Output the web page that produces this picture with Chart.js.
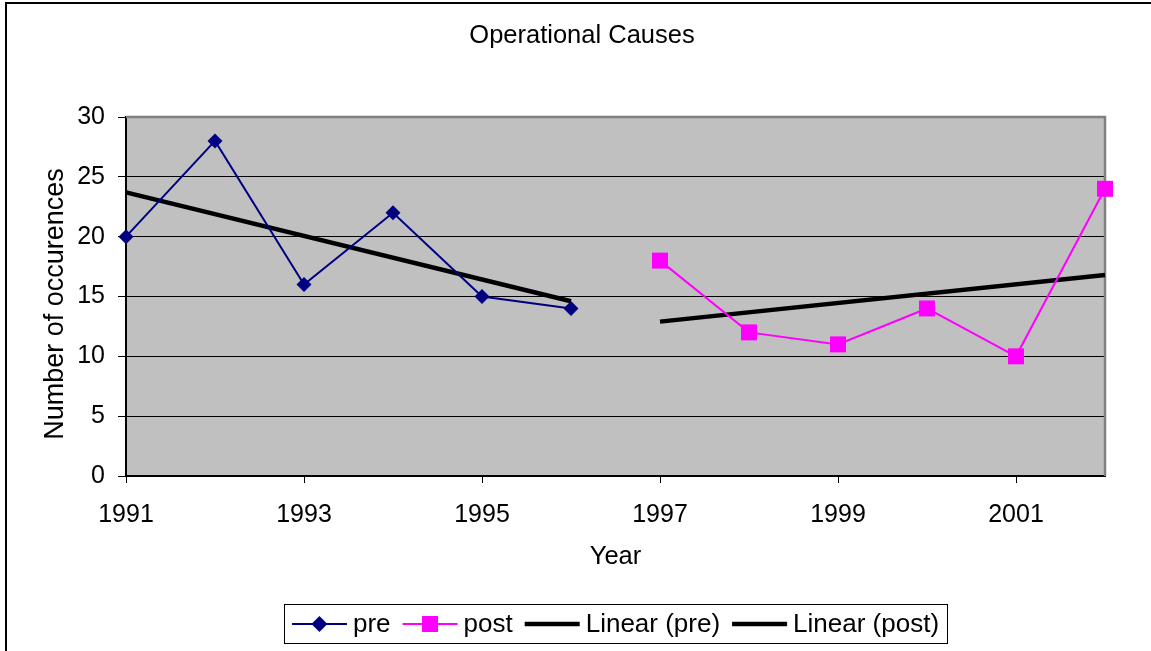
<!DOCTYPE html>
<html>
<head>
<meta charset="utf-8">
<script src="https://cdn.jsdelivr.net/npm/chart.js@4/dist/chart.umd.min.js"></script>
<style>
  html, body { margin: 0; padding: 0; background: #fff; }
  #wrap { width: 1151px; height: 651px; position: relative; }
</style>
</head>
<body>
<div id="wrap"><canvas id="chart" width="1151" height="651"></canvas></div>
<script>
"use strict";

// data
const years = ["1991", "1992", "1993", "1994", "1995", "1996", "1997", "1998", "1999", "2000", "2001", "2002"];
const preYears = ["1991", "1992", "1993", "1994", "1995", "1996"];
const preValues = [20, 28, 16, 22, 15, 14];
const postYears = ["1997", "1998", "1999", "2000", "2001", "2002"];
const postValues = [18, 12, 11, 14, 10, 24];
// trend line end points (Linear (pre) / Linear (post))
const preTrendYears = ["1991", "1996"];
const preTrendValues = [23.7, 14.6];
const postTrendYears = ["1997", "2002"];
const postTrendValues = [12.9, 16.8];
const yTicks = [0, 5, 10, 15, 20, 25, 30];

const chartTitle = "Operational Causes";
const yTitle = "Number of occurences";

const FONT = "'Liberation Sans', Arial, sans-serif";
const NAVY = "#000080";
const MAGENTA = "#FF00FF";

const toPoints = (xs, ys) => xs.map((x, i) => ({ x: x, y: ys[i] }));

// grey plot area + grey top/right border, outer frame, titles
const plotArea = {
  id: "plotArea",
  beforeDraw(chart) {
    const { ctx, chartArea: a } = chart;
    ctx.save();
    ctx.fillStyle = "#fff";
    ctx.fillRect(0, 0, chart.width, chart.height);
    ctx.fillStyle = "#C0C0C0";
    ctx.fillRect(a.left, a.top, a.right - a.left, a.bottom - a.top);
    ctx.restore();
  },
  beforeDatasetsDraw(chart) {
    const { ctx, chartArea: a } = chart;
    ctx.save();
    ctx.strokeStyle = "#808080";
    ctx.lineWidth = 2.5;
    ctx.beginPath();
    ctx.moveTo(a.left, a.top);
    ctx.lineTo(a.right, a.top);
    ctx.lineTo(a.right, a.bottom);
    ctx.stroke();
    ctx.restore();
  },
  afterDraw(chart) {
    const ctx = chart.ctx;
    ctx.save();
    ctx.strokeStyle = "#000";
    ctx.lineWidth = 2;
    ctx.strokeRect(6, 3, chart.width + 50, chart.height + 50);

    ctx.fillStyle = "#000";
    ctx.textAlign = "center";
    ctx.textBaseline = "alphabetic";
    ctx.font = "25.5px " + FONT;
    ctx.fillText(chartTitle, 582, 43);

    ctx.translate(63, 304);
    ctx.rotate(-Math.PI / 2);
    ctx.font = "27px " + FONT;
    ctx.fillText(yTitle, 0, 0);
    ctx.restore();
  }
};

// Excel style legend: line + marker, boxed, under the axis title
const boxLegend = {
  id: "boxLegend",
  afterDraw(chart) {
    const { ctx, chartArea: a } = chart;
    const sym = 55, gap = 6, sep = 12, padX = 8;
    const yMid = 624;
    ctx.save();
    ctx.font = "26px " + FONT;
    const items = chart.data.datasets.map(ds => ({
      ds: ds,
      w: sym + gap + ctx.measureText(ds.label).width
    }));
    const total = items.reduce((s, it) => s + it.w, 0) + sep * (items.length - 1) + padX * 2;
    let x = (a.left + a.right) / 2 - total / 2;
    ctx.strokeStyle = "#000";
    ctx.lineWidth = 1;
    ctx.strokeRect(Math.round(x) + 0.5, 604.5, Math.round(total), 39);
    x += padX;
    items.forEach(it => {
      const ds = it.ds;
      ctx.strokeStyle = ds.borderColor;
      ctx.lineWidth = ds.borderWidth;
      ctx.beginPath();
      ctx.moveTo(x, yMid);
      ctx.lineTo(x + sym, yMid);
      ctx.stroke();
      const cx = x + sym / 2;
      ctx.fillStyle = ds.pointBackgroundColor;
      if (ds.pointStyle === "rectRot") {
        ctx.beginPath();
        ctx.moveTo(cx - 8, yMid);
        ctx.lineTo(cx, yMid - 8);
        ctx.lineTo(cx + 8, yMid);
        ctx.lineTo(cx, yMid + 8);
        ctx.closePath();
        ctx.fill();
      } else if (ds.pointStyle === "rect") {
        ctx.fillRect(cx - 8, yMid - 8, 16, 16);
      }
      ctx.fillStyle = "#000";
      ctx.textBaseline = "middle";
      ctx.textAlign = "left";
      ctx.fillText(ds.label, x + sym + gap, yMid + 1);
      x += it.w + sep;
    });
    ctx.restore();
  }
};

new Chart(document.getElementById("chart"), {
  type: "line",
  data: {
    labels: years,
    datasets: [
      {
        label: "pre",
        data: toPoints(preYears, preValues),
        borderColor: NAVY,
        backgroundColor: NAVY,
        pointBackgroundColor: NAVY,
        pointBorderColor: NAVY,
        borderWidth: 2,
        pointStyle: "rectRot",
        pointRadius: 7.5,
        pointBorderWidth: 0,
        clip: false
      },
      {
        label: "post",
        data: toPoints(postYears, postValues),
        borderColor: MAGENTA,
        backgroundColor: MAGENTA,
        pointBackgroundColor: MAGENTA,
        pointBorderColor: MAGENTA,
        borderWidth: 2,
        pointStyle: "rect",
        pointRadius: 11.3,
        pointBorderWidth: 0,
        clip: false
      },
      {
        label: "Linear (pre)",
        data: toPoints(preTrendYears, preTrendValues),
        borderColor: "#000",
        backgroundColor: "#000",
        pointBackgroundColor: "#000",
        borderWidth: 4.5,
        pointRadius: 0,
        pointStyle: false,
        clip: false
      },
      {
        label: "Linear (post)",
        data: toPoints(postTrendYears, postTrendValues),
        borderColor: "#000",
        backgroundColor: "#000",
        pointBackgroundColor: "#000",
        borderWidth: 4.5,
        pointRadius: 0,
        pointStyle: false,
        clip: false
      }
    ]
  },
  options: {
    responsive: false,
    animation: false,
    events: [],
    layout: { padding: { left: 39, right: 46, top: 117, bottom: 79 } },
    plugins: {
      legend: { display: false },
      tooltip: { enabled: false },
      title: { display: false }
    },
    scales: {
      x: {
        type: "category",
        offset: false,
        afterFit: s => { s.height = 96; },
        grid: {
          drawOnChartArea: false,
          drawTicks: true,
          tickLength: 7,
          tickWidth: 1,
          tickColor: c => (c.index % 2 === 0 ? "#000" : "rgba(0,0,0,0)")
        },
        border: { display: true, color: "#000", width: 2 },
        ticks: {
          autoSkip: false,
          maxRotation: 0,
          padding: 17,
          color: "#000",
          font: { family: FONT, size: 25 },
          callback: function (v, i) { return i % 2 === 0 ? this.getLabelForValue(v) : ""; }
        },
        title: {
          display: true,
          text: "Year",
          color: "#000",
          font: { family: FONT, size: 25.5, lineHeight: 1.2 },
          padding: { top: 0, bottom: 0 }
        }
      },
      y: {
        min: yTicks[0],
        max: yTicks[yTicks.length - 1],
        afterFit: s => { s.width = 87; },
        afterBuildTicks: s => { s.ticks = yTicks.map(v => ({ value: v })); },
        grid: {
          color: c => (c.tick && c.tick.value === 30 ? "rgba(0,0,0,0)" : "#000"),
          lineWidth: 1,
          drawTicks: true,
          tickLength: 8,
          tickColor: "#000"
        },
        border: { display: true, color: "#000", width: 2 },
        ticks: {
          padding: 13,
          color: "#000",
          font: { family: FONT, size: 25 }
        }
      }
    }
  },
  plugins: [plotArea, boxLegend]
});
</script>
</body>
</html>
